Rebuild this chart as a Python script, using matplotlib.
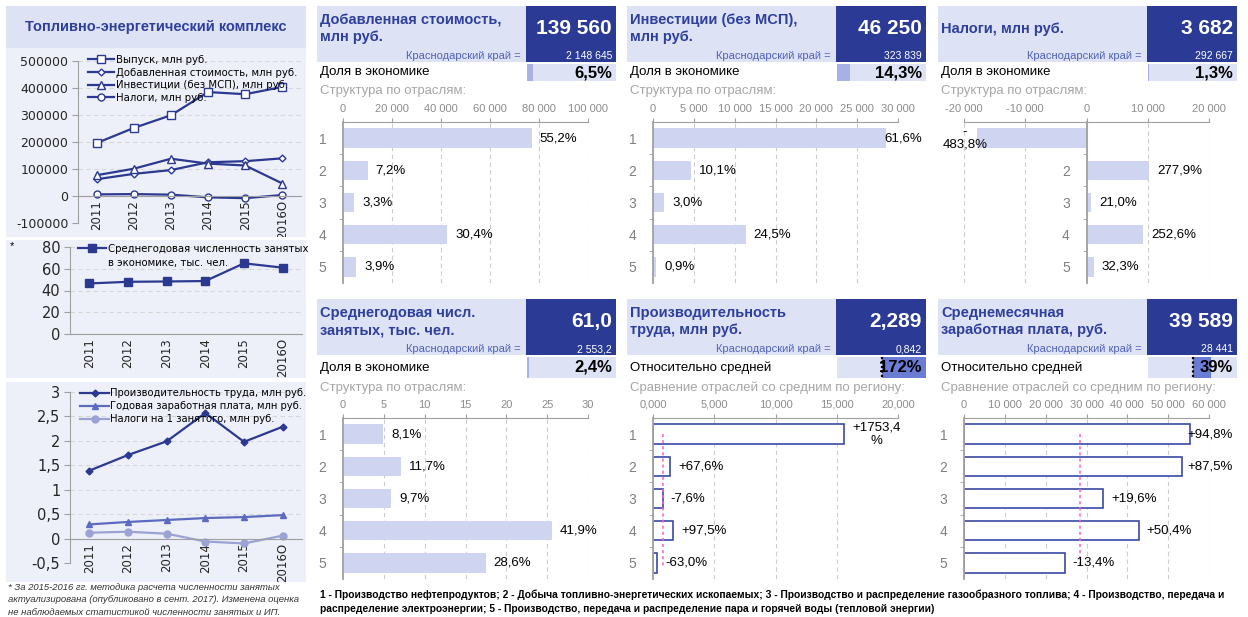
import matplotlib
matplotlib.use('Agg')
import matplotlib.pyplot as plt
from matplotlib.patches import Rectangle
from matplotlib.ticker import FuncFormatter, FixedLocator

W, H = 1248, 617
plt.rcParams['font.family'] = ['Liberation Sans', 'DejaVu Sans']
plt.rcParams['axes.unicode_minus'] = False

# ---- данные: динамика 2011-2016 ----
years = ['2011', '2012', '2013', '2014', '2015', '2016О']
output = [196000, 252000, 299000, 385000, 377000, 404000]
added_value = [62000, 82000, 96000, 125000, 129000, 139560]
invest = [77000, 101000, 138000, 120000, 113000, 46250]
taxes = [6000, 7000, 5000, -5000, -8000, 3682]
employment = [46.5, 48.0, 48.3, 48.7, 65.0, 61.0]
productivity = [1.39, 1.71, 1.99, 2.57, 1.98, 2.289]
annual_wage = [0.29, 0.34, 0.38, 0.42, 0.44, 0.48]
tax_per_emp = [0.12, 0.14, 0.10, -0.06, -0.10, 0.06]

# ---- данные: плитки ----
sectors = ['1', '2', '3', '4', '5']
tile_titles = ['Добавленная стоимость,\nмлн руб.', 'Инвестиции (без МСП),\nмлн руб.',
               'Налоги, млн руб.', 'Среднегодовая числ.\nзанятых, тыс. чел.',
               'Производительность\nтруда, млн руб.', 'Среднемесячная\nзаработная плата, руб.']
tile_values = ['139 560', '46 250', '3 682', '61,0', '2,289', '39 589']
region_values = ['2 148 645', '323 839', '292 667', '2 553,2', '0,842', '28 441']
row_labels = ['Доля в экономике'] * 4 + ['Относительно средней'] * 2
row_pct = [6.5, 14.3, 1.3, 2.4, 172, 39]
row_pct_labels = ['6,5%', '14,3%', '1,3%', '2,4%', '172%', '39%']
sub_labels = ['Структура по отраслям:'] * 4 + ['Сравнение отраслей со средним по региону:'] * 2

va_by_sector = [77040, 10050, 4610, 42430, 5440]
va_labels = ['55,2%', '7,2%', '3,3%', '30,4%', '3,9%']
inv_by_sector = [28490, 4670, 1390, 11330, 420]
inv_labels = ['61,6%', '10,1%', '3,0%', '24,5%', '0,9%']
tax_by_sector = [-17810, 10230, 770, 9300, 1190]
tax_labels = ['-\n483,8%', '277,9%', '21,0%', '252,6%', '32,3%']
emp_by_sector = [4.94, 7.14, 5.92, 25.56, 17.45]
emp_labels = ['8,1%', '11,7%', '9,7%', '41,9%', '28,6%']
prod_by_sector = [15.61, 1.411, 0.778, 1.663, 0.312]
prod_labels = ['+1753,4\n%', '+67,6%', '-7,6%', '+97,5%', '-63,0%']
prod_region = 0.842
wage_by_sector = [55400, 53330, 34020, 42770, 24630]
wage_labels = ['+94,8%', '+87,5%', '+19,6%', '+50,4%', '-13,4%']
wage_region = 28441

footnote = ('* За 2015-2016 гг. методика расчета численности занятых\n'
            'актуализирована (опубликовано в сент. 2017). Изменена оценка\n'
            'не наблюдаемых статистикой численности занятых и ИП.')
legend_note = ('1 - Производство нефтепродуктов; 2 - Добыча топливно-энергетических ископаемых; '
               '3 - Производство и распределение газообразного топлива; 4 - Производство, передача и\n'
               'распределение электроэнергии; 5 - Производство, передача и распределение пара и '
               'горячей воды (тепловой энергии)')

# цвета
LIGHT = '#dde2f4'
PANEL = '#eef0f9'
DARK = '#2b3a94'
TITLE = '#2e3f9c'
MID = '#5263b8'
BAR = '#cfd5f1'
NAVY = '#2b3990'
GRAY = '#a0a0a0'

fig = plt.figure(figsize=(W / 100, H / 100), dpi=100)
fig.patch.set_facecolor('white')


def px_axes(x0, y0, x1, y1):
    return fig.add_axes([x0 / W, 1 - y1 / H, (x1 - x0) / W, (y1 - y0) / H])


def overlay():
    ax = fig.add_axes([0, 0, 1, 1])
    ax.set_xlim(0, W)
    ax.set_ylim(H, 0)
    ax.axis('off')
    return ax


def style_line_ax(ax, ylim, yticks, fmt, ysize):
    ax.set_facecolor('none')
    ax.set_xlim(-0.5, 5.5)
    ax.set_ylim(*ylim)
    ax.set_yticks(yticks)
    ax.yaxis.set_major_formatter(FuncFormatter(fmt))
    ax.set_xticks(range(6))
    ax.set_xticklabels(years)
    for s in ('top', 'right'):
        ax.spines[s].set_visible(False)
    ax.spines['left'].set_color(GRAY)
    ax.spines['bottom'].set_color(GRAY)
    ax.spines['bottom'].set_position(('data', 0))
    ax.tick_params(axis='y', labelsize=ysize, labelcolor='#262626', color=GRAY, length=4, pad=3,
                   labelfontfamily='DejaVu Sans')
    ax.tick_params(axis='x', labelsize=8.5, labelcolor='#262626', length=0, pad=3,
                   labelfontfamily='DejaVu Sans', labelrotation=90)
    ax.yaxis.grid(True, color='#d6d6d6', ls=(0, (4, 3)), lw=0.8)
    ax.set_axisbelow(True)


comma = lambda v, p: f'{v:g}'.replace('.', ',')

# ---------------- левая колонка ----------------
bg = overlay()
bg.add_patch(Rectangle((6, 6), 300, 42, fc=LIGHT, ec='none'))
bg.add_patch(Rectangle((6, 48), 300, 189, fc=PANEL, ec='none'))
bg.text(156, 27, 'Топливно-энергетический комплекс', fontsize=10.5, fontweight='bold',
        color=TITLE, ha='center', va='center')

ax1 = px_axes(78, 61, 301, 223)
style_line_ax(ax1, (-100000, 500000), range(-100000, 500001, 100000), lambda v, p: f'{int(v)}', 9)
ax1.plot(range(6), output, color=NAVY, lw=1.6, marker='s', ms=5.5, mfc='white', mec=NAVY,
         label='Выпуск, млн руб.')
ax1.plot(range(6), added_value, color=NAVY, lw=1.6, marker='D', ms=3.5, mfc='white', mec=NAVY,
         label='Добавленная стоимость, млн руб.')
ax1.plot(range(6), invest, color=NAVY, lw=1.6, marker='^', ms=6, mfc='white', mec=NAVY,
         label='Инвестиции (без МСП), млн руб.')
ax1.plot(range(6), taxes, color=NAVY, lw=1.6, marker='o', ms=5, mfc='white', mec=NAVY,
         label='Налоги, млн руб.')
ax1.legend(loc='upper left', bbox_to_anchor=(88 / W, 1 - 55 / H), bbox_transform=fig.transFigure,
           frameon=False, prop={'family': 'DejaVu Sans', 'size': 7.3}, handlelength=2.6,
           handletextpad=0.2, labelspacing=0.25, borderpad=0, borderaxespad=0)

ov2 = overlay()
ov2.add_patch(Rectangle((0, 237), 310, 3, fc='white', ec='none'))
ov2.add_patch(Rectangle((6, 240), 300, 138, fc=PANEL, ec='none'))
ov2.text(10, 246, '*', fontsize=8, va='center')

ax2 = px_axes(70, 247, 302, 334)
style_line_ax(ax2, (0, 80), range(0, 81, 20), lambda v, p: f'{int(v)}', 10.5)
ax2.plot(range(6), employment, color=NAVY, lw=1.6, marker='s', ms=5.5,
         label='Среднегодовая численность занятых')
ax2.legend(loc='upper left', bbox_to_anchor=(78 / W, 1 - 244 / H), bbox_transform=fig.transFigure,
           frameon=False, prop={'family': 'DejaVu Sans', 'size': 7.3}, handlelength=2.8,
           handletextpad=0.15, borderpad=0, borderaxespad=0)
ov2.text(108, 263, 'в экономике, тыс. чел.', fontsize=7.3, family='DejaVu Sans', va='center')

ov3 = overlay()
ov3.add_patch(Rectangle((0, 378), 310, 4, fc='white', ec='none'))
ov3.add_patch(Rectangle((6, 382), 300, 200, fc=PANEL, ec='none'))
ov3.text(8, 600, footnote, fontsize=6.8, style='italic', color='#333333', va='center',
         linespacing=1.45)

ax3 = px_axes(70, 392, 302, 563)
style_line_ax(ax3, (-0.5, 3), [-0.5, 0, 0.5, 1, 1.5, 2, 2.5, 3], comma, 10.5)
ax3.plot(range(6), productivity, color=NAVY, lw=1.6, marker='D', ms=3.5,
         label='Производительность труда, млн руб.')
ax3.plot(range(6), annual_wage, color='#5c6bc0', lw=1.6, marker='^', ms=5,
         label='Годовая заработная плата, млн руб.')
ax3.plot(range(6), tax_per_emp, color='#9aa3d4', lw=1.6, marker='o', ms=5,
         label='Налоги на 1 занятого, млн руб.')
ax3.legend(loc='upper left', bbox_to_anchor=(80 / W, 1 - 388 / H), bbox_transform=fig.transFigure,
           frameon=False, prop={'family': 'DejaVu Sans', 'size': 7.2}, handlelength=2.9,
           handletextpad=0.15, labelspacing=0.3, borderpad=0, borderaxespad=0)

# ---------------- плитки ----------------
ov = overlay()
ov.text(320, 602, legend_note, fontsize=7.4, fontweight='bold',
        family=['Liberation Sans Narrow', 'Liberation Sans'], va='center', linespacing=1.5)

tile_x = [317, 627, 938]
thousands = lambda v, p: f'{int(v):,}'.replace(',', ' ')
tiles = [
    (va_by_sector, va_labels, (0, 100000), range(0, 100001, 20000), thousands, None),
    (inv_by_sector, inv_labels, (0, 30000), range(0, 30001, 5000), thousands, None),
    (tax_by_sector, tax_labels, (-20000, 20000), range(-20000, 20001, 10000), thousands, None),
    (emp_by_sector, emp_labels, (0, 30), range(0, 31, 5), lambda v, p: f'{int(v)}', None),
    (prod_by_sector, prod_labels, (0, 20), range(0, 21, 5),
     lambda v, p: f'{v:.3f}'.replace('.', ','), prod_region),
    (wage_by_sector, wage_labels, (0, 60000), range(0, 60001, 10000), thousands, wage_region),
]

annotations = []
for k, (vals, labels, xlim, xticks, fmt, avg) in enumerate(tiles):
    row, col = divmod(k, 3)
    x = tile_x[col]
    y = 6 if row == 0 else 299
    hdr_h = 56
    row_h = 17 if row == 0 else 21
    # шапка
    ov.add_patch(Rectangle((x, y), 209, hdr_h, fc=LIGHT, ec='none'))
    ov.add_patch(Rectangle((x + 209, y), 90, hdr_h, fc=DARK, ec='none'))
    ov.text(x + 3, y + 22.5, tile_titles[k], fontsize=10.5, fontweight='bold', color=TITLE,
            va='center', linespacing=1.35)
    ov.text(x + 295, y + 22.5, tile_values[k], fontsize=15, fontweight='bold', color='white',
            ha='right', va='center')
    ov.text(x + 204, y + 50, 'Краснодарский край =', fontsize=8, color=MID, ha='right', va='center')
    ov.text(x + 295, y + 50, region_values[k], fontsize=7.5, color='white', ha='right', va='center')
    # строка доли
    ry = y + hdr_h + 2
    bx, bw = x + 210, 89
    ov.add_patch(Rectangle((bx, ry), bw, row_h, fc=LIGHT, ec='none'))
    if avg is None:
        ov.add_patch(Rectangle((bx, ry), bw * row_pct[k] / 100, row_h, fc='#a8b1e3', ec='none'))
    else:
        start = bx + 0.51 * bw
        ov.add_patch(Rectangle((start, ry), min(row_pct[k] * 0.45, bx + bw - start), row_h,
                               fc='#6a7cd4', ec='none'))
        ov.plot([start, start], [ry, ry + row_h], color='black', lw=1.6, ls=(0, (1, 1)))
    ov.text(x + 3, ry + row_h / 2, row_labels[k], fontsize=9.5, color='black', va='center')
    ov.text(x + 295, ry + row_h / 2, row_pct_labels[k], fontsize=12, fontweight='bold',
            ha='right', va='center')
    ov.text(x + 3, ry + row_h + 10, sub_labels[k], fontsize=9.5, color='#a6a6a6', va='center')

    # диаграмма по отраслям
    top = 122 if row == 0 else 418
    ax = px_axes(x + 26, top, x + 271, top + 161)
    ax.set_facecolor('none')
    if avg is None:
        ax.barh(range(5), vals, height=0.6, color=BAR, zorder=2)
    else:
        ax.barh(range(5), vals, height=0.6, color='white', edgecolor='#3a4aa6', lw=1.2, zorder=2)
        ax.vlines(avg, 0, 4.1, colors='#ff5cc8', linestyles=(0, (2, 2)), lw=1.1, zorder=3)
    ax.set_xlim(*xlim)
    ax.set_ylim(4.5, -0.5)
    ax.xaxis.tick_top()
    ax.xaxis.set_major_locator(FixedLocator(list(xticks)))
    ax.xaxis.set_major_formatter(FuncFormatter(fmt))
    ax.set_yticks(range(5))
    ax.set_yticklabels(sectors)
    ax.yaxis.set_minor_locator(FixedLocator([0.5, 1.5, 2.5, 3.5]))
    ax.tick_params(axis='x', labelsize=8, labelcolor='#8c8c8c', color=GRAY, length=3, pad=3)
    ax.tick_params(axis='y', which='major', labelsize=10, labelcolor='#808080', length=0, pad=12)
    ax.tick_params(axis='y', which='minor', length=3, color=GRAY)
    for s in ('right', 'bottom'):
        ax.spines[s].set_visible(False)
    ax.spines['top'].set_color(GRAY)
    ax.spines['left'].set_color(GRAY)
    ax.spines['left'].set_linewidth(1.3)
    if xlim[0] < 0:
        ax.spines['left'].set_position(('data', 0))
    ax.xaxis.grid(True, color='#cccccc', ls=(0, (4, 3)), lw=0.8)
    ax.set_axisbelow(True)
    for i, (v, lbl) in enumerate(zip(vals, labels)):
        if v >= 0:
            a = ax.annotate(lbl, (v, i), xytext=(5.8, 0), textcoords='offset points', ha='left',
                            va='center', fontsize=9.5, multialignment='center', zorder=4)
            annotations.append((a, x + 295))
        else:
            ax.annotate(lbl, (v, i), xytext=(-9, 0), textcoords='offset points', ha='center',
                        va='center', fontsize=9.5, multialignment='center', zorder=4,
                        linespacing=1.0)

# подписи, выходящие за край плитки, сдвигаем влево
fig.canvas.draw()
for a, lim in annotations:
    bb = a.get_window_extent()
    if bb.x1 > lim:
        a.xyann = (a.xyann[0] - (bb.x1 - lim) * 0.72, 0)

fig.savefig('out.png', dpi=100, facecolor='white')
